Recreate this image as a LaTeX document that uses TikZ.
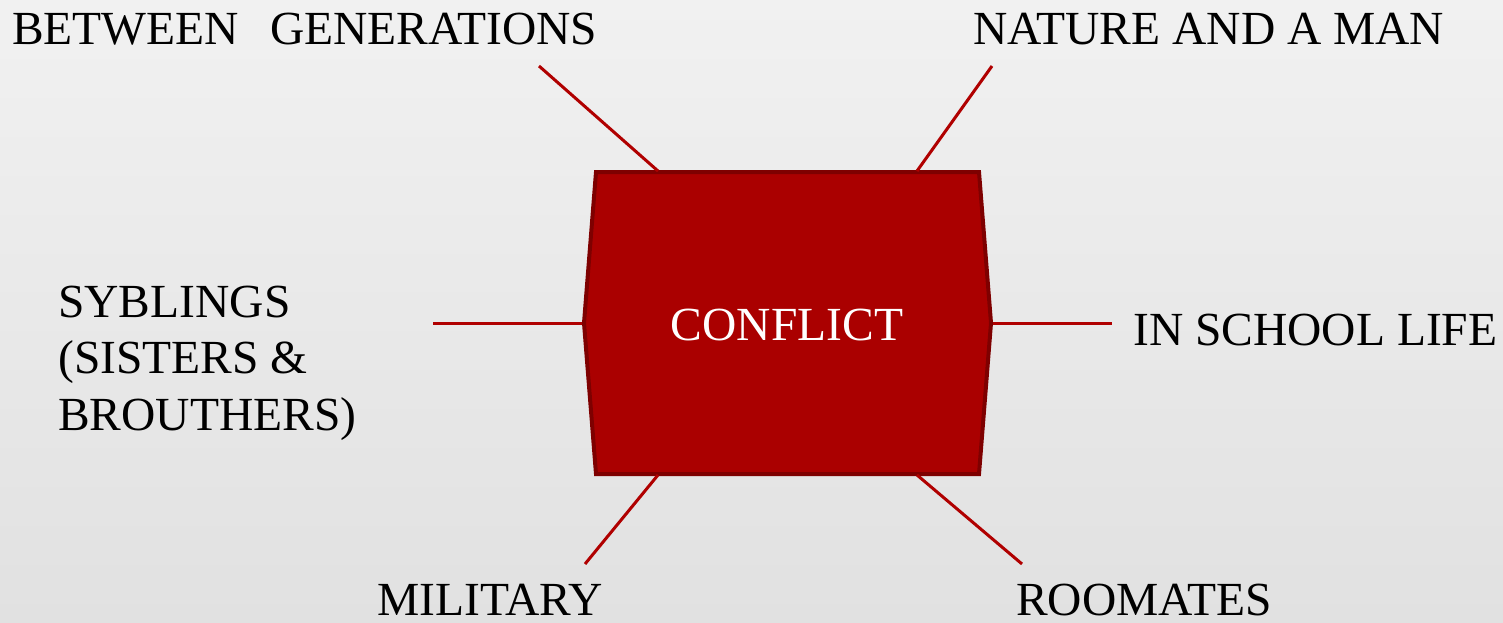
\documentclass[tikz,border=0pt]{standalone}
\usepackage{fontspec}
\setmainfont{Liberation Serif}
\definecolor{boxfill}{HTML}{AA0000}
\definecolor{boxedge}{HTML}{7E0000}
\definecolor{linkred}{HTML}{B00000}
\definecolor{bgtop}{HTML}{F1F1F1}
\definecolor{bgbot}{HTML}{E1E1E1}
\begin{document}
\begin{tikzpicture}[x=1pt,y=-1pt,
  lbl/.style={font=\fontsize{47.5}{56.5}\selectfont, text=black, inner sep=0pt, anchor=base west, align=left},
  link/.style={draw=linkred, line width=3pt},
  hub/.style={fill=boxfill, draw=boxedge, line width=4pt, line join=miter}]
\shade[top color=bgtop, bottom color=bgbot] (0,0) rectangle (1503,623);
\useasboundingbox (0,0) rectangle (1503,623);
% central shape
\draw[hub] (596,172) -- (979,172) -- (991,323) -- (979,474) -- (596,474) -- (584,323) -- cycle;
\node[font=\fontsize{47.5}{57}\selectfont, text=white, inner sep=0pt, anchor=base] (conflict) at (787,340) {CONFLICT};
% attachment points on the shape
\coordinate (hubTL) at (658,171);
\coordinate (hubTR) at (917,171);
\coordinate (hubL) at (582,323);
\coordinate (hubR) at (993,323);
\coordinate (hubBL) at (658,475);
\coordinate (hubBR) at (917,475);
% labels
\node[lbl] (gen) at (12,45) {BETWEEN\hspace{31pt}GENERATIONS};
\node[lbl] (nat) at (973,45) {NATURE AND A MAN};
\node[lbl] (syb) at (58,430) {SYBLINGS\\(SISTERS \&\\BROUTHERS)};
\node[lbl] (sch) at (1133,345) {IN SCHOOL LIFE};
\node[lbl, text depth=0pt] (mil) at (377,615) {MILITARY};
\node[lbl, text depth=0pt] (room) at (1016,615) {ROOMATES};
% free ends
\coordinate (eGen) at (539,66);
\coordinate (eNat) at (992,66);
\coordinate (eSyb) at (433,323);
\coordinate (eSch) at (1112,323);
\coordinate (eMil) at (585,564);
\coordinate (eRoom) at (1022,564);
% connectors
\draw[link] (hubTL) -- (eGen);
\draw[link] (hubTR) -- (eNat);
\draw[link] (hubL) -- (eSyb);
\draw[link] (hubR) -- (eSch);
\draw[link] (hubBL) -- (eMil);
\draw[link] (hubBR) -- (eRoom);
\end{tikzpicture}
\end{document}
